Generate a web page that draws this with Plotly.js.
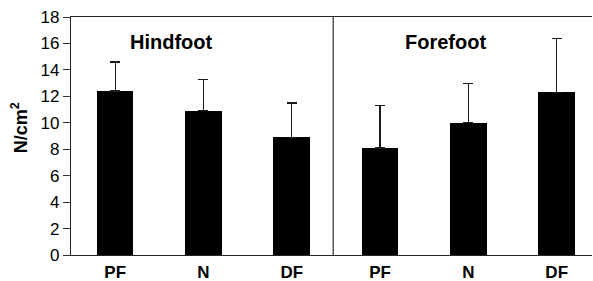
<!DOCTYPE html>
<html>
<head>
<meta charset="utf-8">
<script src="https://cdn.plot.ly/plotly-3.0.1.min.js"></script>
<style>html,body{margin:0;padding:0;background:#fff;}#chart{width:593px;height:281px;}</style>
</head>
<body>
<div id="chart"></div>
<script>
const positions = ["PF", "N", "DF", "PF", "N", "DF"];
const groups = ["Hindfoot", "Forefoot"];
const means = [12.4, 10.9, 8.9, 8.1, 10.0, 12.3];
const sds = [2.2, 2.4, 2.6, 3.2, 3.0, 4.1];
const yTicks = [0, 2, 4, 6, 8, 10, 12, 14, 16, 18];

const xIdx = positions.map((_, i) => i);
const font = "Liberation Sans, Arial, Helvetica, sans-serif";

const trace = {
  type: "bar",
  x: xIdx,
  y: means,
  width: 0.415,
  marker: {color: "#000000", line: {width: 0}},
  error_y: {
    type: "data",
    symmetric: false,
    array: sds,
    arrayminus: sds.map(() => 0),
    color: "#1a1a1a",
    thickness: 1.2,
    width: 5
  },
  hoverinfo: "none"
};

const layout = {
  width: 593,
  height: 281,
  margin: {l: 71, r: 1, t: 17, b: 26, pad: 0},
  paper_bgcolor: "#ffffff",
  plot_bgcolor: "#ffffff",
  showlegend: false,
  bargap: 0,
  font: {family: font, color: "#000"},
  xaxis: {
    range: [-0.5, 5.40],
    tickvals: xIdx,
    ticktext: positions,
    ticks: "outside",
    ticklen: 1,
    tickcolor: "rgba(0,0,0,0)",
    tickfont: {family: font, size: 17, color: "#000", weight: "bold"},
    showgrid: false,
    zeroline: false,
    showline: true,
    linecolor: "#222",
    linewidth: 1.2,
    mirror: true,
    fixedrange: true
  },
  yaxis: {
    range: [0, 18],
    tickvals: yTicks,
    ticks: "outside",
    ticklen: 7,
    tickwidth: 1,
    tickcolor: "#333",
    tickfont: {family: font, size: 17, color: "#000"},
    showgrid: false,
    zeroline: false,
    showline: true,
    linecolor: "#222",
    linewidth: 1.2,
    fixedrange: true
  },
  shapes: [{
    type: "line", xref: "x", yref: "paper",
    x0: 2.47, x1: 2.47, y0: 0, y1: 1,
    line: {color: "#555", width: 1.5}
  }],
  annotations: [
    {text: "<b>" + groups[0] + "</b>", xref: "x", yref: "y", x: 0.64, y: 16.1,
     showarrow: false, xanchor: "center", yanchor: "middle",
     font: {family: font, size: 20, color: "#000"}},
    {text: "<b>" + groups[1] + "</b>", xref: "x", yref: "y", x: 3.746, y: 16.1,
     showarrow: false, xanchor: "center", yanchor: "middle",
     font: {family: font, size: 20, color: "#000"}},
    {text: "<b>N/cm<sup>2</sup></b>", xref: "paper", yref: "y",
     x: (19 - 71) / 522, y: 9.6, textangle: -90,
     showarrow: false, xanchor: "center", yanchor: "middle",
     font: {family: font, size: 18, color: "#000"}}
  ]
};

Plotly.newPlot("chart", [trace], layout, {staticPlot: true, displayModeBar: false});
</script>
</body>
</html>
